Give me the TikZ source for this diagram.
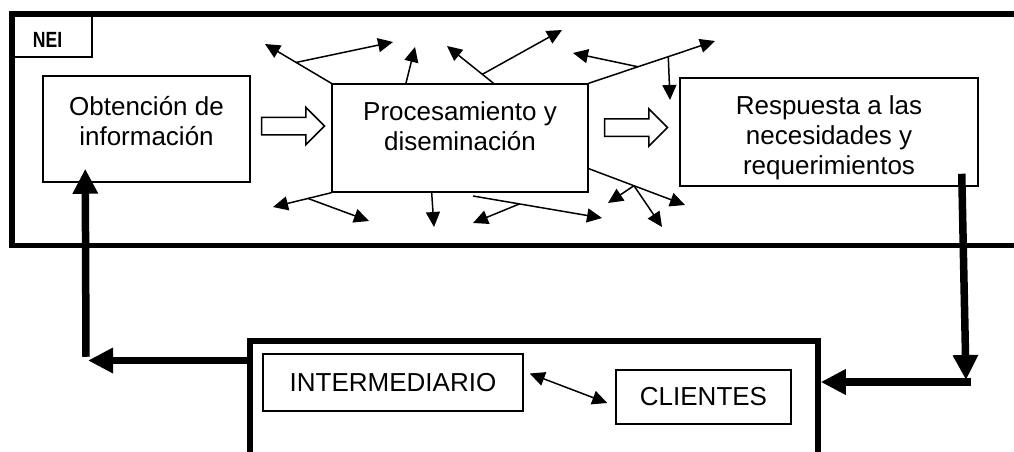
\documentclass[tikz,border=0pt]{standalone}
\usepackage{fontspec}
\setmainfont{Liberation Sans}
\usepackage{tikz}
\usetikzlibrary{arrows.meta,positioning,calc,shapes.arrows}
\tikzstyle{frame}=[draw,line width=5.5pt,inner sep=0pt]
\tikzstyle{box}=[draw,line width=1.5pt,inner sep=0pt]
\tikzstyle{txt}=[align=center,inner sep=0pt,font=\fontsize{26}{30}\selectfont]
\tikzstyle{hollow}=[draw,single arrow,line width=1.5pt,minimum height=63pt,single arrow head extend=10pt,inner xsep=0pt,inner ysep=8pt]
\tikzstyle{spray}=[line width=1.5pt,-{Triangle[length=15pt,width=14pt]}]
\tikzstyle{both}=[line width=1.5pt,{Triangle[length=15pt,width=14pt]}-{Triangle[length=15pt,width=14pt]}]
\tikzstyle{feedback}=[line width=7.5pt,-{Triangle[length=25pt,width=24pt]}]

\begin{document}
\begin{tikzpicture}[x=1pt,y=-1pt]
\useasboundingbox (0,0) rectangle (1014,452);
% marcos
\node[frame,minimum width=1028pt,minimum height=231.5pt] (nei) at (526,129.75) {};
\node[frame,minimum width=568pt,minimum height=179pt] (ext) at (534,430.5) {};
\node[box,minimum width=80pt,minimum height=43pt] (neibox) at (52,35.5) {};
\node[font=\fontsize{22}{26}\selectfont\bfseries,inner sep=0pt] (neilbl) at (47.5,39.5) {\scalebox{0.8}[1]{NEI}};

% bloques del NEI
\node[box,minimum width=207pt,minimum height=106pt] (obt) at (146.5,129) {};
\node[txt,below=21pt of obt.north] (obttxt) {Obtención de\\información};
\node[box,minimum width=256pt,minimum height=108pt] (proc) at (460,138) {};
\node[txt,below=18pt of proc.north] (proctxt) {Procesamiento y\\diseminación};
\node[box,minimum width=298pt,minimum height=108pt] (resp) at (829,132) {};
\node[txt,below=18pt of resp.north] (resptxt) {Respuesta a las\\necesidades y\\requerimientos};

\node[hollow,right=10pt of obt,yshift=3pt] (h1) {};
\node[hollow,right=15pt of proc,yshift=10.5pt] (h2) {};

% diseminacion
\draw[spray] (proc.north west) -- coordinate[pos=0.53] (a1) (265,44);
\draw[spray] (a1) -- (393,42);
\draw[spray] ($(proc.north west)!0.29!(proc.north east)$) -- (415,47);
\draw[spray] ($(proc.north west)!0.63!(proc.north east)$) -- coordinate[pos=0.24] (a2) (447,46);
\draw[spray] (a2) -- (562,30);
\draw[spray] (proc.north east) -- coordinate[pos=0.39] (a3) coordinate[pos=0.63] (a4) (715,41);
\draw[spray] (a3) -- (573,53);
\draw[spray] (a4) -- (670,100);
\draw[spray] (proc.south west) -- coordinate[pos=0.4] (a5) (273,207);
\draw[spray] (a5) -- (369,221);
\draw[spray] ($(proc.south west)!0.39!(proc.south east)$) -- (434,227);
\draw[spray] (473,196) -- coordinate[pos=0.36] (a6) (602,218);
\draw[spray] (a6) -- (473,223);
\draw[spray] ($(proc.north east)!0.78!(proc.south east)$) -- coordinate[pos=0.47] (a7) (685,205);
\draw[spray] (a7) -- (608,203);
\draw[spray] (a7) -- (662,227);

% entorno
\node[box,txt,minimum width=260pt,minimum height=57pt] (inter) at (393,382.5) {INTERMEDIARIO};
\node[box,txt,minimum width=175pt,minimum height=54pt] (cli) at (703.5,397) {CLIENTES};
\draw[both] ($(inter.east)+(6,-9)$) -- ($(cli.west)+(-8,6)$);

% retroalimentacion
\coordinate (turnL) at (86,360.5);
\coordinate (turnR) at (968,382);
\draw[feedback] ($(resp.south east)+(-17,-13)$) -- ($(turnR)+(-2,-2)$);
\draw[feedback] ($(turnR)+(3,0)$) -- (turnR -| ext.east);
\draw[feedback] (ext.west |- turnL) -- ($(turnL)+(2,0)$);
\draw[feedback] ($(turnL)+(0,-3.75)$) -- ($(obt.south west)+(43,-14)$);
\end{tikzpicture}
\end{document}
